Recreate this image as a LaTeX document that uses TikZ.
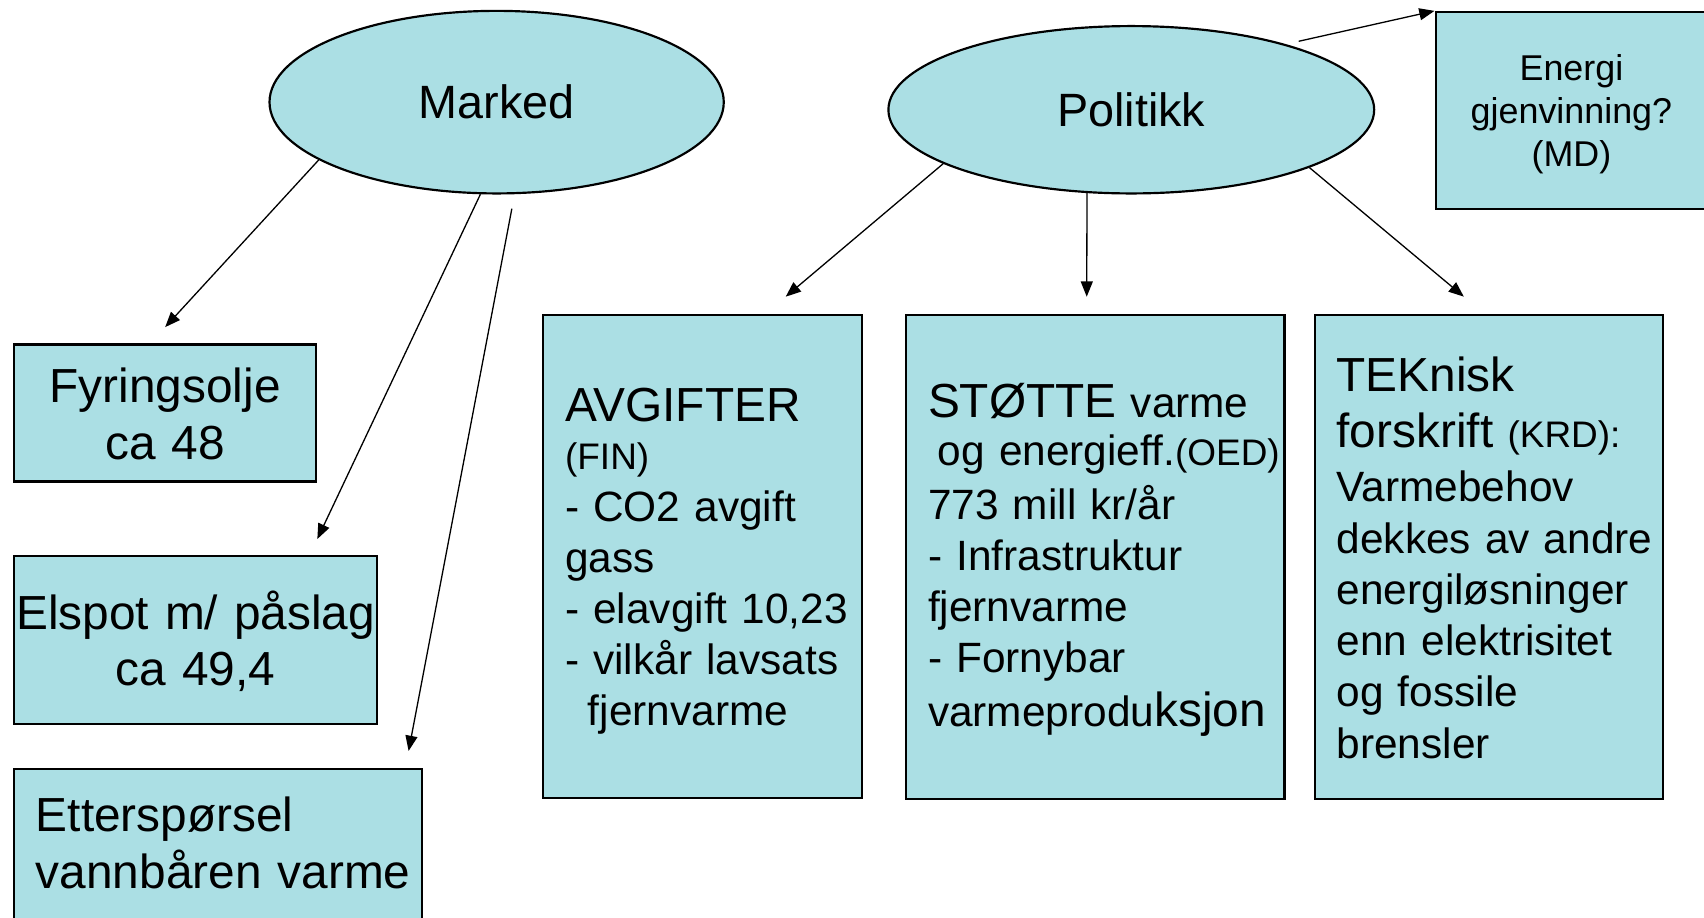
\documentclass[tikz,border=0pt]{standalone}
\usepackage{fontspec}
\setmainfont{Liberation Sans}
\usetikzlibrary{shapes.geometric,arrows.meta}
\definecolor{boxfill}{RGB}{171,223,228}
\newcommand{\fbig}{\fontsize{22}{23.5}\selectfont}
\newcommand{\fmid}{\fontsize{19.5}{23.5}\selectfont}
\newcommand{\fsml}{\fontsize{17}{23.5}\selectfont}
\begin{document}
\begin{tikzpicture}[x=0.5pt,y=-0.5pt,
  oval/.style={ellipse, draw=black, line width=1pt, fill=boxfill, inner sep=0pt,
    font=\fontsize{21.5}{26}\selectfont},
  rect/.style={rectangle, draw=black, line width=1pt, fill=boxfill,
    inner xsep=10pt, inner ysep=0pt, anchor=north west},
  conn/.style={-{Triangle[length=7pt,width=5.5pt]}, line width=0.6pt}]
\useasboundingbox (0,0) rectangle (1568,844);
\clip (0,0) rectangle (1568,844);

% ovals
\node[oval, minimum width=209pt, minimum height=84pt] (marked) at (457,94) {Marked};
\node[oval, minimum width=223.5pt, minimum height=77pt] (pol) at (1041,101) {Politikk};

% market boxes
\node[rect, text width=119pt, align=center, text height=26.8pt, text depth=36.2pt,
  font=\fontsize{22}{26}\selectfont] (fyr) at (12,316) {Fyringsolje\\ca 48};
\node[rect, inner xsep=0pt, text width=167pt, align=center, text height=33.5pt, text depth=43.5pt,
  font=\fontsize{22}{26}\selectfont] (elspot) at (12,511) {\mbox{Elspot m/ påslag}\\ca 49,4};
\node[rect, text width=167.5pt, align=left, text height=28.75pt, text depth=80pt,
  font=\fontsize{22}{26.5}\selectfont] (etter) at (12,706.5) {Etterspørsel\\\mbox{vannbåren varme}};

% energy box
\node[rect, text width=105pt, align=center, text height=31.5pt, text depth=59.25pt,
  font=\fontsize{16.5}{19.75}\selectfont] (energi) at (1320,10) {Energi\\gjenvinning?\\(MD)};

% policy boxes
\node[rect, text width=126.5pt, align=left, text height=49pt, text depth=173pt,
  font=\fmid] (avg) at (499,289)
  {{\fbig AVGIFTER}\\[-1.5pt]
   {\fsml (FIN)}\\[0.3pt]
   \mbox{- CO2 avgift}\\
   gass\\
   \mbox{- elavgift 10,23}\\
   \mbox{- vilkår lavsats}\\
   \hspace*{10.5pt}fjernvarme};
\node[rect, text width=154pt, align=left, text height=47.25pt, text depth=175.5pt,
  font=\fmid] (stotte) at (833,289)
  {\mbox{{\fbig STØTTE} varme}\\[-1.5pt]
   \mbox{\hspace*{4.5pt}og energieff.{\fsml (OED)}}\\[1.25pt]
   \mbox{773 mill kr/år}\\
   \mbox{- Infrastruktur}\\
   fjernvarme\\
   \mbox{- Fornybar}\\[1.15pt]
   \mbox{varmeprodu{\fbig ksjon}}};
\node[rect, text width=140pt, align=left, text height=35pt, text depth=187.75pt,
  font=\fontsize{19.5}{23.6}\selectfont] (tek) at (1209,289)
  {{\fbig TEKnisk}\\[2.4pt]
   \mbox{{\fbig forskrift} {\fsml (KRD):}}\\[1.25pt]
   Varmebehov\\
   \mbox{dekkes av andre}\\
   \mbox{energiløsninger}\\
   \mbox{enn elektrisitet}\\
   \mbox{og fossile}\\
   brensler};

% free ends of connectors
\coordinate (e1) at (152,301);
\coordinate (e2) at (292,496);
\coordinate (s3) at (471,192);
\coordinate (e3) at (376,691);
\coordinate (e4) at (723,273);
\coordinate (e5) at (1000,273);
\coordinate (e6) at (1347,273);
\coordinate (s7) at (1195,38);

% connectors
\draw[conn] (marked.198) -- (e1);
\draw[conn] (marked.260) -- (e2);
\draw[conn] (s3) -- (e3);
\draw[conn] (pol.196.5) -- (e4);
\draw[conn] (pol.242) -- (e5);
\draw[conn] (pol.342.5) -- (e6);
\draw[conn] (s7) -- (energi.north west);
\end{tikzpicture}
\end{document}
